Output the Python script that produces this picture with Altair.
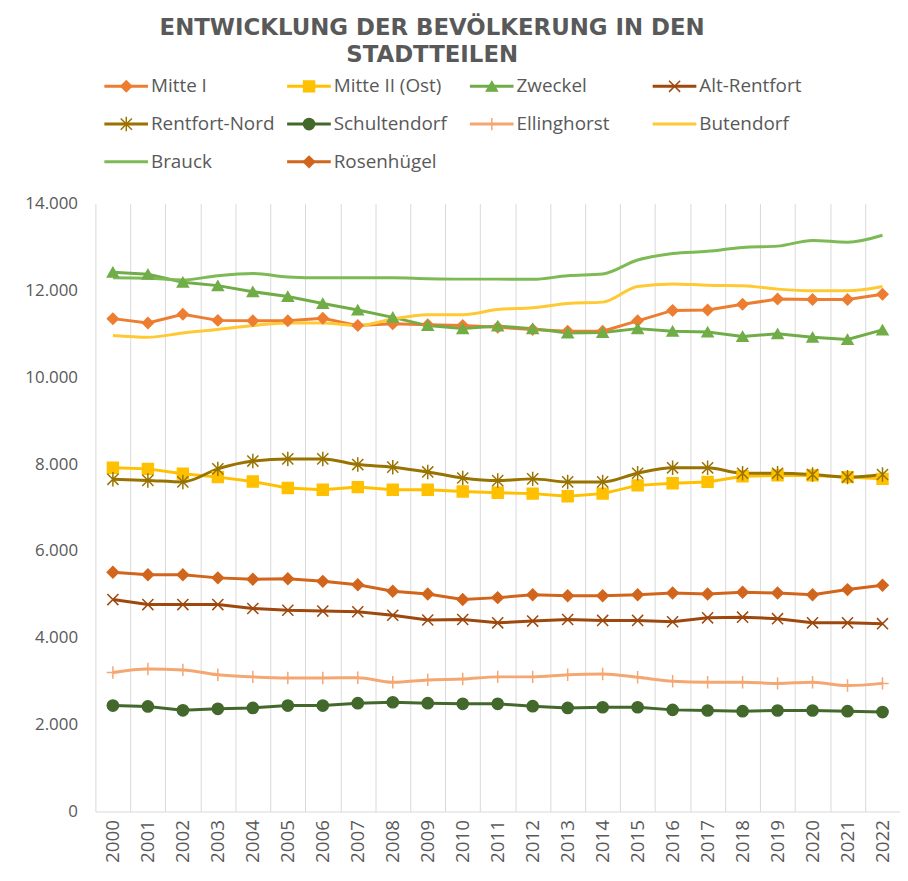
import json
import altair as alt
import pandas as pd

years = ["2000", "2001", "2002", "2003", "2004", "2005", "2006", "2007", "2008", "2009", "2010",
         "2011", "2012", "2013", "2014", "2015", "2016", "2017", "2018", "2019", "2020", "2021", "2022"]

mitte_1 = [11350, 11250, 11450, 11310, 11300, 11300, 11360, 11190, 11230, 11210, 11190, 11150,
           11100, 11060, 11060, 11300, 11540, 11550, 11680, 11800, 11790, 11790, 11910]
mitte_2_ost = [7915, 7890, 7780, 7700, 7600, 7450, 7410, 7470, 7410, 7410, 7370, 7340,
               7320, 7260, 7320, 7510, 7560, 7590, 7720, 7740, 7740, 7700, 7660]
zweckel = [12420, 12370, 12190, 12110, 11970, 11860, 11700, 11550, 11380, 11190, 11120, 11180,
           11120, 11020, 11030, 11120, 11060, 11040, 10940, 11000, 10920, 10870, 11090]
alt_rentfort = [4880, 4765, 4765, 4765, 4675, 4635, 4615, 4600, 4520, 4410, 4420, 4345,
                4385, 4420, 4400, 4400, 4370, 4460, 4475, 4440, 4345, 4345, 4325]
rentfort_nord = [7650, 7625, 7590, 7890, 8070, 8120, 8120, 7990, 7930, 7820, 7680, 7620,
                 7660, 7590, 7590, 7790, 7915, 7915, 7790, 7790, 7760, 7700, 7760]
schultendorf = [2440, 2420, 2330, 2365, 2385, 2440, 2440, 2495, 2515, 2495, 2480, 2480,
                2425, 2385, 2400, 2400, 2340, 2325, 2310, 2325, 2325, 2310, 2290]
ellinghorst = [3200, 3280, 3260, 3150, 3100, 3075, 3075, 3080, 2975, 3030, 3050, 3100,
               3100, 3150, 3165, 3090, 3000, 2975, 2975, 2950, 2975, 2900, 2950]
butendorf = [10960, 10920, 11020, 11100, 11190, 11250, 11250, 11190, 11340, 11440, 11440, 11560,
             11600, 11700, 11730, 12090, 12150, 12120, 12110, 12030, 11990, 11990, 12090]
brauck = [12290, 12280, 12240, 12340, 12390, 12310, 12290, 12290, 12290, 12270, 12260, 12260,
          12255, 12340, 12380, 12700, 12850, 12900, 12990, 13020, 13150, 13110, 13270]
rosenhuegel = [5510, 5450, 5450, 5380, 5350, 5360, 5300, 5220, 5070, 5010, 4880, 4925,
               4990, 4970, 4970, 4990, 5030, 5010, 5050, 5030, 4990, 5110, 5210]

series_names = ["Mitte I", "Mitte II (Ost)", "Zweckel", "Alt-Rentfort", "Rentfort-Nord",
                "Schultendorf", "Ellinghorst", "Butendorf", "Brauck", "Rosenhügel"]
series_values = [mitte_1, mitte_2_ost, zweckel, alt_rentfort, rentfort_nord,
                 schultendorf, ellinghorst, butendorf, brauck, rosenhuegel]
series_colors = ["#ED7D31", "#FFC000", "#70AD47", "#9E480E", "#997300",
                 "#43682B", "#F4A772", "#FFC934", "#7DBA55", "#D2651C"]
line_widths = [3, 3, 3, 3, 3, 3, 2.5, 2.5, 2.5, 3]

X_PATH = "M-1,-1L1,1M-1,1L1,-1"
STAR_PATH = "M-1,-1L1,1M-1,1L1,-1M0,-1.3L0,1.3"
PLUS_PATH = "M0,-1.1L0,1.1M-1.1,0L1.1,0"
marker_series = ["Mitte I", "Mitte II (Ost)", "Zweckel", "Alt-Rentfort", "Rentfort-Nord",
                 "Schultendorf", "Ellinghorst", "Rosenhügel"]
marker_shapes = ["diamond", "square", "triangle-up", X_PATH, STAR_PATH, "circle", PLUS_PATH, "diamond"]
marker_sizes = [120, 130, 120, 90, 90, 130, 70, 120]
smooth_series = ["Rentfort-Nord", "Butendorf", "Brauck", "Ellinghorst"]

y_ticks = [0, 2000, 4000, 6000, 8000, 10000, 12000, 14000]
title_lines = ["ENTWICKLUNG DER BEVÖLKERUNG IN DEN", "STADTTEILEN"]

rows = [{"year": y, "series": n, "value": v}
        for n, vals in zip(series_names, series_values) for y, v in zip(years, vals)]
df = pd.DataFrame(rows)
legend_df = pd.DataFrame({"series": series_names, "idx": list(range(len(series_names)))})

FONT = "Open Sans"
GRAY = "#595959"
PLOT_W = 810
PLOT_H = 612

color_scale = alt.Scale(domain=series_names, range=series_colors)
shape_scale = alt.Scale(domain=marker_series, range=marker_shapes)
size_scale = alt.Scale(domain=marker_series, range=marker_sizes)
width_scale = alt.Scale(domain=series_names, range=line_widths)

x_enc = alt.X("year:O", sort=years,
              scale=alt.Scale(type="band", paddingInner=0, paddingOuter=0),
              axis=alt.Axis(title=None, grid=True, gridColor="#D9D9D9", gridWidth=1,
                            tickBand="extent", labelAngle=-90,
                            labelFontSize=19, labelColor=GRAY, labelFont=FONT,
                            ticks=False, domainColor="#D9D9D9", domainWidth=1, labelPadding=8))
y_enc = alt.Y("value:Q", scale=alt.Scale(domain=[0, 14000], nice=False),
              axis=alt.Axis(title=None, values=y_ticks, grid=False, domain=False, ticks=False,
                            labelPadding=18, labelFontSize=17, labelColor=GRAY, labelFont=FONT,
                            labelExpr="replace(format(datum.value, ','), ',', '.')"))

color_enc = alt.Color("series:N", scale=color_scale, legend=None)
width_enc = alt.StrokeWidth("series:N", scale=width_scale, legend=None)
stroke_enc = alt.Stroke("series:N", scale=color_scale, legend=None)
shape_enc = alt.Shape("series:N", scale=shape_scale, legend=None)
size_enc = alt.Size("series:N", scale=size_scale, legend=None)

smooth_js = json.dumps(smooth_series)
marker_js = json.dumps(marker_series)

lines_linear = alt.Chart(df).transform_filter(
    f"indexof({smooth_js}, datum.series) < 0"
).mark_line().encode(x=x_enc, y=y_enc, color=color_enc, strokeWidth=width_enc)

lines_smooth = alt.Chart(df).transform_filter(
    f"indexof({smooth_js}, datum.series) >= 0"
).mark_line(interpolate="monotone").encode(x=x_enc, y=y_enc, color=color_enc, strokeWidth=width_enc)

points = alt.Chart(df).transform_filter(
    f"indexof({marker_js}, datum.series) >= 0"
).mark_point(filled=True, opacity=1, strokeWidth=1.5).encode(
    x=x_enc, y=y_enc, color=color_enc, stroke=stroke_enc, shape=shape_enc, size=size_enc)

data_layer = alt.layer(lines_linear, lines_smooth, points)

# legend, drawn above the plot area from the series list
lx = alt.Scale(domain=[0, 4], range=[9, 745])
ly = alt.Scale(domain=[0, 2], range=[-118, -42])
lbase = alt.Chart(legend_df).transform_calculate(
    col="datum.idx % 4", row="floor(datum.idx / 4)",
    x1="datum.col + 0.239", xm="datum.col + 0.12", xt="datum.col + 0.255"
)
leg_rule = lbase.mark_rule().encode(
    x=alt.X("col:Q", scale=lx, axis=None), x2="x1:Q",
    y=alt.Y("row:Q", scale=ly, axis=None), color=color_enc, strokeWidth=width_enc)
leg_pts = lbase.transform_filter(f"indexof({marker_js}, datum.series) >= 0").mark_point(
    filled=True, opacity=1, strokeWidth=1.5).encode(
    x=alt.X("xm:Q", scale=lx, axis=None), y=alt.Y("row:Q", scale=ly, axis=None),
    color=color_enc, stroke=stroke_enc, shape=shape_enc, size=size_enc)
leg_txt = lbase.mark_text(align="left", baseline="middle", fontSize=19, font=FONT, color=GRAY).encode(
    x=alt.X("xt:Q", scale=lx, axis=None), y=alt.Y("row:Q", scale=ly, axis=None), text="series:N")
legend_layer = alt.layer(leg_rule, leg_pts, leg_txt)

chart = alt.layer(data_layer, legend_layer).resolve_scale(
    x="independent", y="independent"
).properties(
    width=PLOT_W, height=PLOT_H,
    title=alt.TitleParams(text=title_lines, font="DejaVu Sans", fontSize=23, fontWeight="bold",
                          color=GRAY, anchor="middle", lineHeight=27, offset=11, dx=-66),
    padding={"left": 16, "top": 6, "right": 0, "bottom": 0},
).configure_view(stroke=None)

chart.save("out.html", embed_options={"renderer": "svg", "actions": False})
